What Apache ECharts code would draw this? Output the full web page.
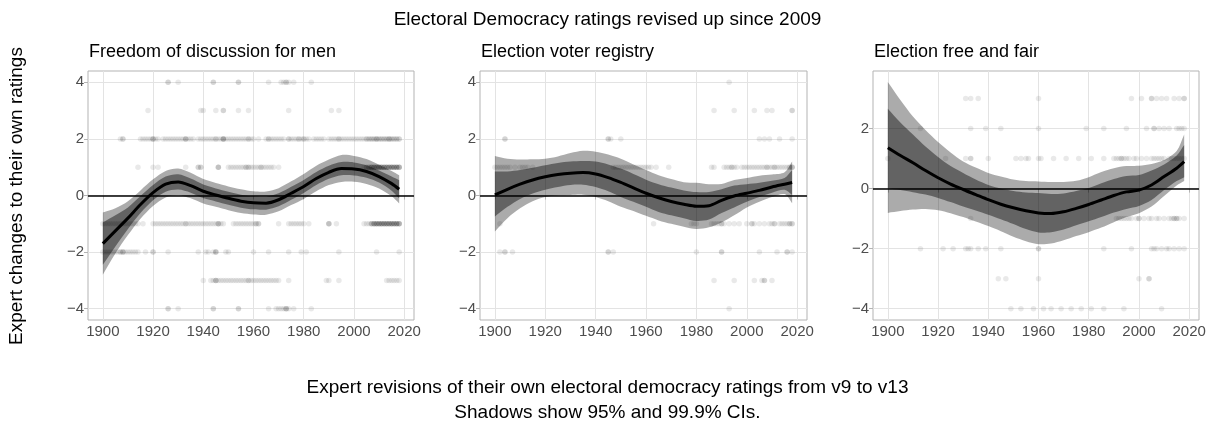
<!DOCTYPE html>
<html>
<head>
<meta charset="utf-8">
<script src="https://cdn.jsdelivr.net/npm/echarts@6/dist/echarts.min.js"></script>
<style>
  html, body { margin: 0; padding: 0; background: #ffffff; }
  #chart { width: 1215px; height: 428px; }
</style>
</head>
<body>
<div id="chart"></div>
<script>
// ---- Text ----
const mainTitle = 'Electoral Democracy ratings revised up since 2009';
const panelTitles = ['Freedom of discussion for men', 'Election voter registry', 'Election free and fair'];
const xTitle = 'Expert revisions of their own electoral democracy ratings from v9 to v13';
const captionText = 'Shadows show 95% and 99.9% CIs.';
const yTitle = 'Expert changes to their own ratings';

// ---- Tick labels ----
const xTicks = [1900, 1920, 1940, 1960, 1980, 2000, 2020];
const yTicksFull = [-4, -2, 0, 2, 4];
const yTicksFair = [-4, -2, 0, 2];

// ---- Smoothed fits with 95% and 99.9% bands ----
const smoothYears = [1900, 1905, 1910, 1915, 1920, 1925, 1930, 1935, 1940, 1945, 1950, 1955, 1960,
                     1965, 1970, 1975, 1980, 1985, 1990, 1995, 2000, 2005, 2010, 2015, 2018];

const discussionFit   = [-1.70, -1.25, -0.80, -0.32, 0.10, 0.40, 0.48, 0.35, 0.15, 0.02, -0.10, -0.20, -0.26,
                         -0.27, -0.15, 0.08, 0.32, 0.60, 0.82, 0.95, 0.94, 0.85, 0.67, 0.42, 0.22];
const discussionLo95  = [-2.45, -1.80, -1.18, -0.62, -0.17, 0.13, 0.21, 0.10, -0.09, -0.21, -0.33, -0.43, -0.49,
                         -0.50, -0.38, -0.15, 0.09, 0.37, 0.59, 0.72, 0.71, 0.63, 0.46, 0.17, -0.10];
const discussionHi95  = [-0.95, -0.70, -0.42, -0.02, 0.37, 0.67, 0.75, 0.60, 0.39, 0.25, 0.13, 0.03, -0.03,
                         -0.04, 0.08, 0.31, 0.55, 0.83, 1.05, 1.18, 1.17, 1.07, 0.88, 0.67, 0.54];
const discussionLo999 = [-2.80, -2.05, -1.40, -0.82, -0.37, -0.07, 0.01, -0.10, -0.28, -0.40, -0.52, -0.62, -0.67,
                         -0.68, -0.56, -0.34, -0.12, 0.15, 0.37, 0.48, 0.49, 0.41, 0.25, -0.03, -0.28];
const discussionHi999 = [-0.60, -0.45, -0.20, 0.18, 0.57, 0.87, 0.95, 0.80, 0.58, 0.44, 0.32, 0.22, 0.15,
                         0.14, 0.26, 0.50, 0.76, 1.05, 1.27, 1.43, 1.40, 1.29, 1.09, 0.87, 0.72];

const registryFit   = [0.02, 0.22, 0.40, 0.55, 0.66, 0.74, 0.79, 0.81, 0.76, 0.63, 0.46, 0.27, 0.08,
                       -0.08, -0.21, -0.31, -0.38, -0.36, -0.17, -0.02, 0.08, 0.18, 0.30, 0.40, 0.46];
const registryLo95  = [-0.74, -0.40, -0.12, 0.07, 0.20, 0.30, 0.37, 0.38, 0.30, 0.15, -0.05, -0.22, -0.40,
                       -0.58, -0.70, -0.80, -0.90, -0.85, -0.62, -0.42, -0.22, -0.05, 0.10, 0.20, 0.02];
const registryHi95  = [0.85, 0.85, 0.90, 0.98, 1.07, 1.15, 1.20, 1.22, 1.20, 1.10, 0.95, 0.76, 0.56,
                       0.40, 0.28, 0.18, 0.12, 0.12, 0.22, 0.35, 0.40, 0.45, 0.52, 0.62, 0.90];
const registryLo999 = [-1.27, -0.80, -0.45, -0.20, -0.05, 0.00, 0.02, 0.03, -0.05, -0.20, -0.40, -0.55, -0.72,
                       -0.88, -1.00, -1.10, -1.18, -1.12, -0.95, -0.70, -0.42, -0.22, -0.05, 0.05, -0.27];
const registryHi999 = [1.40, 1.30, 1.27, 1.28, 1.30, 1.38, 1.50, 1.58, 1.55, 1.45, 1.30, 1.10, 0.90,
                       0.72, 0.58, 0.47, 0.45, 0.40, 0.41, 0.55, 0.62, 0.70, 0.74, 0.82, 1.20];

const fairFit   = [1.36, 1.10, 0.86, 0.60, 0.36, 0.15, -0.03, -0.20, -0.37, -0.52, -0.64, -0.74, -0.81,
                   -0.83, -0.77, -0.66, -0.53, -0.38, -0.23, -0.11, -0.05, 0.12, 0.40, 0.68, 0.90];
const fairLo95  = [0.00, -0.05, -0.12, -0.20, -0.31, -0.45, -0.60, -0.73, -0.87, -1.02, -1.18, -1.35, -1.46,
                   -1.45, -1.36, -1.22, -1.09, -0.95, -0.80, -0.68, -0.58, -0.38, -0.05, 0.25, 0.38];
const fairHi95  = [2.66, 2.20, 1.80, 1.40, 1.05, 0.75, 0.52, 0.30, 0.12, 0.00, -0.08, -0.13, -0.15,
                   -0.18, -0.16, -0.08, 0.02, 0.18, 0.32, 0.42, 0.45, 0.60, 0.80, 1.10, 1.45];
const fairLo999 = [-0.81, -0.75, -0.70, -0.68, -0.72, -0.82, -0.95, -1.10, -1.25, -1.42, -1.60, -1.75, -1.85,
                   -1.83, -1.72, -1.58, -1.45, -1.30, -1.12, -0.95, -0.82, -0.60, -0.25, 0.10, 0.25];
const fairHi999 = [3.55, 2.95, 2.40, 1.95, 1.55, 1.20, 0.90, 0.70, 0.52, 0.40, 0.30, 0.25, 0.24,
                   0.22, 0.22, 0.26, 0.38, 0.55, 0.68, 0.75, 0.76, 0.82, 0.95, 1.25, 1.80];

// ---- Individual expert revisions: [change, years] ----
const discussionPoints = [
  [4, [1926,1926,1930,1944,1944,1954,1954,1966,1971,1972,1973,1973,1974,1976,1983]],
  [3, [1918,1939,1940,1945,1948,1948,1954,1958,1974,1991,1994]],
  [2, [1907,1908,1908,1915,1916,1917,1918,1919,1920,1920,1920,1921,1922,1924,1925,1926,1927,1928,1929,1930,
       1931,1932,1933,1933,1933,1934,1935,1936,1938,1939,1940,1941,1942,1943,1944,1945,1945,1946,1947,1948,
       1948,1948,1948,1949,1950,1951,1952,1953,1954,1955,1956,1957,1958,1958,1959,1960,1962,1965,1966,1966,
       1967,1968,1969,1970,1971,1972,1974,1974,1975,1976,1977,1978,1978,1979,1980,1980,1981,1982,1984,1985,
       1986,1987,1988,1990,1991,1992,1993,1994,1994,1995,1996,1997,1998,1999,2000,2001,2002,2003,2004,2005,
       2005,2006,2006,2007,2007,2008,2008,2009,2009,2009,2010,2010,2011,2011,2012,2012,2013,2013,2014,2014,
       2014,2015,2015,2016,2016,2017,2017,2018,2018]],
  [1, [1914,1920,1922,1933,1938,1938,1939,1939,1946,1946,1946,1950,1951,1952,1953,1954,1955,1956,1957,1957,
       1958,1958,1959,1960,1961,1962,1963,1963,1964,1965,1966,1967,1968,1970,
       2004,2005,2005,2006,2006,2006,2007,2007,2007,2007,2008,2008,2008,2008,2009,2009,2009,2009,2010,2010,
       2010,2010,2011,2011,2011,2011,2012,2012,2012,2012,2013,2013,2013,2013,2014,2014,2014,2014,2015,2015,
       2015,2015,2016,2016,2016,2016,2017,2017,2017,2017,2018,2018,2018,2018]],
  [-1, [1900,1901,1902,1903,1904,1905,1906,1907,1908,1909,1910,1911,1912,1913,1914,1916,1920,1921,1922,1923,
        1924,1925,1926,1927,1928,1929,1930,1931,1932,1933,1933,1934,1935,1936,1937,1938,1939,1940,1941,1942,
        1943,1944,1945,1946,1946,1946,1947,1948,1952,1953,1954,1955,1956,1957,1958,1959,1960,1961,1961,1962,
        1962,1970,1974,1975,1976,1977,1978,1979,1980,1982,1990,1990,1990,1993,
        2004,2005,2006,2007,2007,2007,2008,2008,2008,2008,2009,2009,2009,2009,2010,2010,2010,2010,2011,2011,
        2011,2011,2012,2012,2012,2012,2013,2013,2013,2013,2014,2014,2014,2014,2015,2015,2015,2015,2016,2016,
        2016,2016,2017,2017,2017,2017,2018,2018,2018,2018]],
  [-2, [1900,1901,1902,1903,1904,1905,1906,1907,1907,1908,1908,1908,1909,1910,1911,1912,1913,1914,1917,1920,
        1920,1926,1938,1941,1942,1944,1945,1945,1945,1949,1950,1960,1966,1974,1979,1981,1994,2009,2018]],
  [-3, [1940,1943,1944,1945,1945,1945,1946,1947,1948,1949,1950,1951,1952,1953,1954,1955,1956,1957,1958,1958,
        1959,1960,1961,1962,1963,1964,1965,1966,1967,1968,1969,1970,1974,1989,1990,1994,2013,2014,2015,2016,
        2017,2018]],
  [-4, [1926,1926,1930,1944,1944,1954,1954,1966,1969,1970,1971,1972,1973,1973,1973,1974,1976,1983]]
];

const registryPoints = [
  [4, [1993]],
  [3, [1987,1995,2003,2008,2010,2018,2018]],
  [2, [1904,1904,1945,1945,1946,1950,2005,2007,2009,2013,2018]],
  [1, [1900,1901,1902,1903,1904,1905,1906,1908,1910,1911,1912,1913,1915,1947,1948,1949,1950,1951,1952,1953,
       1954,1955,1956,1957,1958,1959,1960,1961,1962,1964,1969,1986,1987,1991,1992,1993,1994,1994,1995,1996,
       1998,1999,2000,2001,2002,2003,2004,2005,2006,2007,2008,2008,2009,2010,2011,2011,2012,2013,2014,2015,
       2016,2017,2017,2018,2018,2018]],
  [-1, [1902,1963,1978,1979,1980,1986,1987,1988,1989,1990,1990,1991,1993,1995,1997,2000,2002,2002,2003,2005,
        2007,2009,2010,2011,2011,2013,2014,2015,2016,2017,2017,2018,2018]],
  [-2, [1902,1904,1904,1907,1945,1945,1947,1980,1990,1990,2005,2012,2016,2016,2018]],
  [-3, [1987,1995,2003,2006,2007,2007,2010]],
  [-4, [1993]]
];

const fairPoints = [
  [3, [1931,1933,1936,1960,1997,2001,2005,2005,2007,2009,2011,2014,2016,2018,2018]],
  [2, [1913,1933,1939,1945,1960,1979,1986,1995,2003,2006,2006,2008,2010,2012,2015,2016,2017,2018]],
  [1, [1900,1923,1931,1933,1933,1940,1951,1953,1955,1956,1960,1961,1966,1971,1976,1981,1986,1990,1991,1992,
       1993,1993,1994,1995,1996,1998,1999,2001,2003,2005,2006,2007,2008,2009,2010,2012,2013,2014,2015,2016,
       2017,2018]],
  [-1, [1933,1991,1992,1993,1994,1995,1996,1997,1999,2000,2000,2002,2004,2005,2007,2008,2010,2012,2013,2014,
        2014,2015,2015,2016,2018]],
  [-2, [1913,1922,1926,1931,1932,1933,1936,1939,1945,1960,1960,1986,1997,2005,2006,2007,2009,2011,2012,2014,
        2016,2018]],
  [-3, [1944,1947,1960,2000,2004,2004]],
  [-4, [1949,1953,1958,1962,1965,1969,1973,1977,1981,1986,1994,2009]]
];

// ---- Layout ----
const FONT = "'Liberation Sans', Arial, Helvetica, sans-serif";
const panels = [
  { left: 88,  width: 326, yMin: -4.4,  yMax: 4.4,   yTicks: yTicksFull,
    fit: discussionFit, lo95: discussionLo95, hi95: discussionHi95, lo999: discussionLo999, hi999: discussionHi999,
    points: discussionPoints },
  { left: 480, width: 327, yMin: -4.4,  yMax: 4.4,   yTicks: yTicksFull,
    fit: registryFit, lo95: registryLo95, hi95: registryHi95, lo999: registryLo999, hi999: registryHi999,
    points: registryPoints },
  { left: 873, width: 326, yMin: -4.377, yMax: 3.917, yTicks: yTicksFair,
    fit: fairFit, lo95: fairLo95, hi95: fairHi95, lo999: fairLo999, hi999: fairHi999,
    points: fairPoints }
];
const PLOT_TOP = 71, PLOT_HEIGHT = 249;
const X_MIN = 1894.1, X_MAX = 2023.9;
const SMOOTH = 0.3;

const minusFmt = v => (v < 0 ? '\u2212' + Math.abs(v) : String(v));
const pairs = (xs, ys) => xs.map((x, i) => [x, ys[i]]);
const triples = (xs, lo, hi) => xs.map((x, i) => [x, lo[i], hi[i]]);

// One smoothed polygon per band: the upper edge left to right, then the lower edge back.
// End points are doubled so the vertical ends of the ribbon stay straight.
function bandRenderer(color) {
  return function (params, api) {
    if (params.dataIndexInside !== 0) return null;
    const n = params.dataInsideLength;
    const upper = [], lower = [];
    for (let k = 0; k < n; k++) {
      upper.push(api.coord([api.value(0, k), api.value(2, k)]));
      lower.push(api.coord([api.value(0, k), api.value(1, k)]));
    }
    const pts = [upper[0]].concat(upper, [upper[n - 1]], [lower[n - 1]], lower.slice().reverse(), [lower[0]]);
    return {
      type: 'polygon',
      shape: { points: pts, smooth: SMOOTH },
      style: { fill: color, stroke: null }
    };
  };
}

const grid = [], xAxis = [], yAxis = [], series = [];

panels.forEach((p, i) => {
  grid.push({
    left: p.left, top: PLOT_TOP, width: p.width, height: PLOT_HEIGHT,
    show: true, borderColor: '#b3b3b3', borderWidth: 1, backgroundColor: 'transparent'
  });
  xAxis.push({
    type: 'value', gridIndex: i, min: X_MIN, max: X_MAX,
    axisLine: { show: false },
    axisTick: { show: true, length: 4, lineStyle: { color: '#b3b3b3' }, customValues: xTicks },
    axisLabel: { customValues: xTicks, color: '#4d4d4d', fontSize: 15, fontFamily: FONT, margin: 4,
                 formatter: v => String(v) },
    splitLine: { show: true, lineStyle: { color: '#e3e3e3', width: 1 } }
  });
  yAxis.push({
    type: 'value', gridIndex: i, min: p.yMin, max: p.yMax,
    axisLine: { show: false },
    axisTick: { show: true, length: 4, lineStyle: { color: '#b3b3b3' }, customValues: p.yTicks },
    axisLabel: { customValues: p.yTicks, color: '#4d4d4d', fontSize: 15, fontFamily: FONT, margin: 4,
                 formatter: minusFmt },
    splitLine: { show: true, lineStyle: { color: '#e3e3e3', width: 1 } }
  });

  // individual revisions, with the zero reference line underneath the bands
  const pts = [];
  p.points.forEach(([val, years]) => years.forEach(y => pts.push([y, val])));
  series.push({
    type: 'scatter', xAxisIndex: i, yAxisIndex: i, data: pts, z: 2,
    symbol: 'circle', symbolSize: 5.5, silent: true,
    itemStyle: { color: 'rgba(0,0,0,0.11)', borderWidth: 0 },
    markLine: {
      silent: true, symbol: ['none', 'none'], animation: false,
      label: { show: false },
      lineStyle: { color: '#000000', width: 1.6, type: 'solid' },
      emphasis: { disabled: true },
      data: [{ yAxis: 0 }]
    }
  });

  // 99.9% band, then 95% band on top
  series.push({
    type: 'custom', xAxisIndex: i, yAxisIndex: i, z: 3, silent: true,
    data: triples(smoothYears, p.lo999, p.hi999),
    encode: { x: 0, y: [1, 2] },
    renderItem: bandRenderer('rgba(0,0,0,0.33)')
  });
  series.push({
    type: 'custom', xAxisIndex: i, yAxisIndex: i, z: 3, silent: true,
    data: triples(smoothYears, p.lo95, p.hi95),
    encode: { x: 0, y: [1, 2] },
    renderItem: bandRenderer('rgba(0,0,0,0.42)')
  });
  // fitted curve
  series.push({
    type: 'line', xAxisIndex: i, yAxisIndex: i, data: pairs(smoothYears, p.fit),
    showSymbol: false, symbol: 'none', smooth: SMOOTH, silent: true, z: 4,
    lineStyle: { color: '#000000', width: 3 }
  });
});

const textStyle = (size, color) => ({ font: `${size}px ${FONT}`, fill: color || '#000000' });
const graphic = [
  { type: 'text', x: 607.5, y: 20, style: Object.assign({ text: mainTitle, textAlign: 'center', textVerticalAlign: 'middle' }, textStyle(19)) },
  { type: 'text', x: 89,  y: 52, style: Object.assign({ text: panelTitles[0], textAlign: 'left', textVerticalAlign: 'middle' }, textStyle(18)) },
  { type: 'text', x: 481, y: 52, style: Object.assign({ text: panelTitles[1], textAlign: 'left', textVerticalAlign: 'middle' }, textStyle(18)) },
  { type: 'text', x: 874, y: 52, style: Object.assign({ text: panelTitles[2], textAlign: 'left', textVerticalAlign: 'middle' }, textStyle(18)) },
  { type: 'text', x: 607.5, y: 388, style: Object.assign({ text: xTitle, textAlign: 'center', textVerticalAlign: 'middle' }, textStyle(19)) },
  { type: 'text', x: 607.5, y: 413, style: Object.assign({ text: captionText, textAlign: 'center', textVerticalAlign: 'middle' }, textStyle(19)) },
  { type: 'text', x: 17, y: 196, rotation: Math.PI / 2,
    style: Object.assign({ text: yTitle, textAlign: 'center', textVerticalAlign: 'middle' }, textStyle(19)) }
];

const chart = echarts.init(document.getElementById('chart'), null, { renderer: 'canvas' });
chart.setOption({
  animation: false,
  backgroundColor: '#ffffff',
  grid, xAxis, yAxis, series, graphic
});
</script>
</body>
</html>
